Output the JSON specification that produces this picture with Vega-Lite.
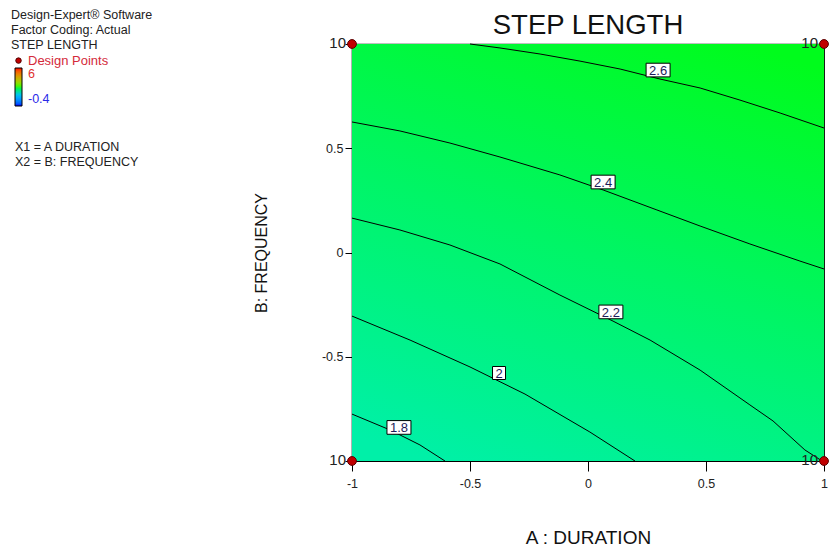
{
  "$schema": "https://vega.github.io/schema/vega-lite/v6.json",
  "width": 472,
  "height": 417,
  "autosize": {"type": "none"},
  "padding": {"left": 352, "top": 44, "right": 8, "bottom": 94},
  "background": "white",
  "title": {"text": "STEP LENGTH", "frame": "group", "fontSize": 27.5, "fontWeight": "normal", "font": "Liberation Sans", "color": "#111111", "baseline": "alphabetic", "offset": -52, "anchor": "middle"},
  "datasets": {
    "contours": [
      {"level": 2.6, "A": -0.5, "B": 1.0},
      {"level": 2.6, "A": -0.373, "B": 0.981},
      {"level": 2.6, "A": -0.203, "B": 0.952},
      {"level": 2.6, "A": -0.034, "B": 0.918},
      {"level": 2.6, "A": 0.136, "B": 0.880},
      {"level": 2.6, "A": 0.305, "B": 0.832},
      {"level": 2.6, "A": 0.475, "B": 0.789},
      {"level": 2.6, "A": 0.644, "B": 0.731},
      {"level": 2.6, "A": 0.814, "B": 0.669},
      {"level": 2.6, "A": 1.0, "B": 0.597},
      {"level": 2.4, "A": -1.0, "B": 0.626},
      {"level": 2.4, "A": -0.797, "B": 0.583},
      {"level": 2.4, "A": -0.585, "B": 0.525},
      {"level": 2.4, "A": -0.373, "B": 0.458},
      {"level": 2.4, "A": -0.119, "B": 0.372},
      {"level": 2.4, "A": 0.064, "B": 0.300},
      {"level": 2.4, "A": 0.292, "B": 0.204},
      {"level": 2.4, "A": 0.475, "B": 0.127},
      {"level": 2.4, "A": 0.686, "B": 0.041},
      {"level": 2.4, "A": 0.898, "B": -0.041},
      {"level": 2.4, "A": 1.0, "B": -0.079},
      {"level": 2.2, "A": -1.0, "B": 0.165},
      {"level": 2.2, "A": -0.797, "B": 0.108},
      {"level": 2.2, "A": -0.585, "B": 0.036},
      {"level": 2.2, "A": -0.373, "B": -0.055},
      {"level": 2.2, "A": -0.119, "B": -0.204},
      {"level": 2.2, "A": 0.106, "B": -0.329},
      {"level": 2.2, "A": 0.263, "B": -0.420},
      {"level": 2.2, "A": 0.475, "B": -0.564},
      {"level": 2.2, "A": 0.686, "B": -0.731},
      {"level": 2.2, "A": 0.784, "B": -0.808},
      {"level": 2.2, "A": 0.919, "B": -0.947},
      {"level": 2.2, "A": 0.992, "B": -1.0},
      {"level": 2.0, "A": -1.0, "B": -0.305},
      {"level": 2.0, "A": -0.754, "B": -0.420},
      {"level": 2.0, "A": -0.5, "B": -0.549},
      {"level": 2.0, "A": -0.267, "B": -0.679},
      {"level": 2.0, "A": 0.008, "B": -0.861},
      {"level": 2.0, "A": 0.199, "B": -1.0},
      {"level": 1.8, "A": -1.0, "B": -0.775},
      {"level": 1.8, "A": -0.839, "B": -0.851},
      {"level": 1.8, "A": -0.712, "B": -0.923},
      {"level": 1.8, "A": -0.606, "B": -1.0}
    ],
    "labels": [
      {"text": "2.6", "A": 0.297, "B": 0.875},
      {"text": "2.4", "A": 0.064, "B": 0.338},
      {"text": "2.2", "A": 0.097, "B": -0.285},
      {"text": "2", "A": -0.377, "B": -0.578},
      {"text": "1.8", "A": -0.801, "B": -0.839}
    ],
    "points": [
      {"A": -1, "B": 1, "runs": 10},
      {"A": 1, "B": 1, "runs": 10},
      {"A": -1, "B": -1, "runs": 10},
      {"A": 1, "B": -1, "runs": 10}
    ],
    "range": [
      {"STEP LENGTH": -0.4},
      {"STEP LENGTH": 6}
    ]
  },
  "layer": [
    {
      "data": {"values": [{}]},
      "mark": {"type": "rect", "color": {"gradient": "linear", "x1": 0.28, "y1": 1.05, "x2": 0.72, "y2": -0.05, "stops": [{"offset": 0, "color": "#00f0a8"}, {"offset": 0.5, "color": "#00f566"}, {"offset": 1, "color": "#00fc1c"}]}},
      "encoding": {
        "x": {"datum": -1, "type": "quantitative", "scale": {"domain": [-1, 1], "nice": false, "zero": false}},
        "x2": {"datum": 1},
        "y": {"datum": -1, "type": "quantitative", "scale": {"domain": [-1, 1], "nice": false, "zero": false}},
        "y2": {"datum": 1}
      }
    },
    {
      "data": {"name": "contours"},
      "mark": {"type": "line", "color": "#000000", "strokeWidth": 1},
      "encoding": {
        "x": {"field": "A", "type": "quantitative", "title": "A : DURATION",
              "scale": {"domain": [-1, 1], "nice": false, "zero": false},
              "axis": {"values": [-1, -0.5, 0, 0.5, 1], "tickSize": 10, "labelPadding": 6, "labelExpr": "toString(datum.value)", "titleFontSize": 19, "titlePadding": 39, "labelFlush": false, "labelOverlap": false}},
        "y": {"field": "B", "type": "quantitative", "title": "B: FREQUENCY",
              "scale": {"domain": [-1, 1], "nice": false, "zero": false},
              "axis": {"values": [-1, -0.5, 0, 0.5, 1], "tickSize": 7, "labelPadding": 2, "labelExpr": "abs(datum.value) == 1 ? '' : toString(datum.value)", "titleFontSize": 16, "titlePadding": 52, "labelFlush": false, "labelOverlap": false}},
        "detail": {"field": "level", "type": "nominal"}
      }
    },
    {
      "data": {"name": "labels"},
      "transform": [{"filter": "length(datum.text) > 1"}],
      "mark": {"type": "point", "shape": "M-1,-0.57H1V0.57H-1Z", "size": 576, "filled": true, "fill": "#ffffff", "stroke": "#000000", "strokeWidth": 1, "opacity": 1},
      "encoding": {
        "x": {"field": "A", "type": "quantitative"},
        "y": {"field": "B", "type": "quantitative"}
      }
    },
    {
      "data": {"name": "labels"},
      "transform": [{"filter": "length(datum.text) == 1"}],
      "mark": {"type": "point", "shape": "square", "size": 169, "filled": true, "fill": "#ffffff", "stroke": "#000000", "strokeWidth": 1, "opacity": 1},
      "encoding": {
        "x": {"field": "A", "type": "quantitative"},
        "y": {"field": "B", "type": "quantitative"}
      }
    },
    {
      "data": {"name": "labels"},
      "mark": {"type": "text", "fontSize": 13, "color": "#1c1c5a", "align": "center", "baseline": "middle", "dy": 1},
      "encoding": {
        "x": {"field": "A", "type": "quantitative"},
        "y": {"field": "B", "type": "quantitative"},
        "text": {"field": "text"}
      }
    },
    {
      "data": {"name": "points"},
      "mark": {"type": "point", "shape": "circle", "size": 78, "filled": true, "opacity": 1, "stroke": "#5a0000", "strokeWidth": 1},
      "encoding": {
        "x": {"field": "A", "type": "quantitative"},
        "y": {"field": "B", "type": "quantitative"},
        "fill": {"datum": "Design Points", "scale": {"range": ["#c00000"]},
                 "legend": {"orient": "none", "legendX": -341, "legendY": -35, "padding": 0,
                            "title": ["Design-Expert® Software", "Factor Coding: Actual", "STEP LENGTH"],
                            "titleFontSize": 12.5, "titleFontWeight": "normal", "titleLineHeight": 14.8, "titlePadding": 3, "titleColor": "#222222", "titleFont": "Liberation Sans",
                            "labelColor": "#d42a3a", "labelFontSize": 13, "labelFont": "Liberation Sans", "symbolType": "circle", "symbolSize": 30,
                            "symbolStrokeColor": "#500000", "symbolStrokeWidth": 1, "symbolFillColor": "#c00000", "symbolOffset": 1, "labelOffset": 3}}
      }
    },
    {
      "data": {"name": "points"},
      "mark": {"type": "text", "fontSize": 15, "align": "right", "baseline": "middle", "dx": -6, "dy": -1, "color": "#222222"},
      "encoding": {
        "x": {"field": "A", "type": "quantitative"},
        "y": {"field": "B", "type": "quantitative"},
        "text": {"field": "runs"}
      }
    },
    {
      "data": {"name": "range"},
      "mark": {"type": "point", "opacity": 0, "filled": true},
      "encoding": {
        "color": {"field": "STEP LENGTH", "type": "quantitative",
                  "scale": {"domain": [-0.4, 2.8, 6], "range": ["#0000ff", "#00ff00", "#ff0000"]},
                  "legend": {"type": "gradient", "direction": "vertical", "orient": "none", "legendX": -337, "legendY": 24, "padding": 0,
                             "gradientLength": 38, "gradientThickness": 7, "gradientStrokeColor": "#000000", "gradientStrokeWidth": 1,
                             "values": [-0.4, 6], "labelExpr": "toString(datum.value)", "labelOffset": 6, "labelFontSize": 12.5, "labelFont": "Liberation Sans",
                             "labelColor": {"expr": "datum.value > 3 ? '#e03030' : '#2a2ae8'"}, "labelOverlap": false,
                             "title": ["X1 = A DURATION", "X2 = B: FREQUENCY"], "titleOrient": "bottom", "titlePadding": 34, "titleFontSize": 12.5,
                             "titleFontWeight": "normal", "titleLineHeight": 15, "titleColor": "#222222", "titleAnchor": "start", "titleFont": "Liberation Sans"}}
      }
    }
  ],
  "config": {
    "font": "Liberation Sans",
    "view": {"stroke": "#000000", "strokeWidth": 1.2},
    "axis": {"domainColor": "#000000", "tickColor": "#000000", "labelColor": "#222222", "labelFontSize": 12.5, "titleColor": "#111111", "titleFontWeight": "normal", "grid": false, "labelFont": "Liberation Sans", "titleFont": "Liberation Sans"}
  }
}
